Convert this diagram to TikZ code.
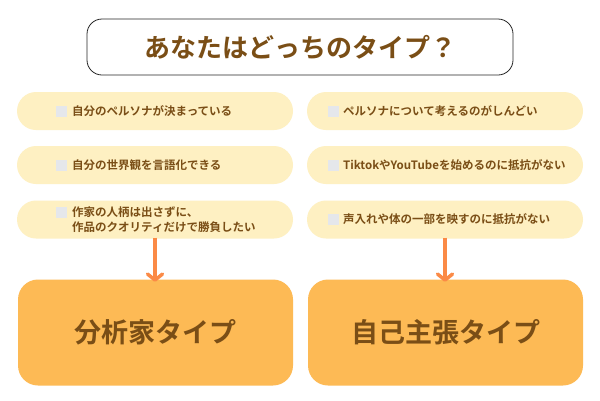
\documentclass[tikz,border=0pt]{standalone}
\usepackage{fontspec}
\setmainfont{Noto Sans CJK JP}[BoldFont={* Bold}]
\usetikzlibrary{arrows.meta}
\definecolor{brownT}{HTML}{7A4E16}
\definecolor{pillY}{HTML}{FEF0C2}
\definecolor{boxO}{HTML}{FDBA55}
\definecolor{arrO}{HTML}{FB8A46}
\definecolor{chkG}{HTML}{E5E7EB}
\begin{document}
\begin{tikzpicture}[x=1pt,y=-1pt,
  pill/.style={fill=pillY,draw=none,rounded corners=19pt,minimum width=276pt,minimum height=38pt,inner sep=0pt},
  chk/.style={fill=chkG,draw=none,minimum width=11pt,minimum height=11pt,inner sep=0pt},
  ptext/.style={text=brownT,font=\bfseries\fontsize{11.5}{15}\selectfont,anchor=west,inner sep=0pt,align=left},
  bigbox/.style={fill=boxO,draw=none,rounded corners=20pt,minimum width=275pt,minimum height=106pt,inner sep=0pt,text=brownT,font=\bfseries\fontsize{27}{30}\selectfont},
  arr/.style={draw=arrO,line width=3.5pt,-{Straight Barb[length=6pt,width=15pt,round]}}]
\useasboundingbox[fill=white] (0,0) rectangle (600,400);
% title
\node[draw=black!85,line width=0.8pt,rounded corners=15pt,minimum width=426pt,minimum height=56pt,inner sep=0pt,text=brownT,font=\bfseries\fontsize{26}{30}\selectfont] (title) at (300,47) {あなたはどっちのタイプ？};
% left pills
\node[pill] (L1) at (155,111) {};
\node[pill] (L2) at (155,165) {};
\node[pill] (L3) at (155,219.5) {};
\node[chk] (cL1) at (61.5,111) {};
\node[chk] (cL2) at (61.5,165) {};
\node[chk] (cL3) at (61.5,212) {};
\node[ptext] (tL1) at (72,111) {自分のペルソナが決まっている};
\node[ptext] (tL2) at (72,165) {自分の世界観を言語化できる};
\node[ptext] (tL3) at (72,219.5) {作家の人柄は出さずに、\\作品のクオリティだけで勝負したい};
% right pills
\node[pill] (R1) at (445,111) {};
\node[pill] (R2) at (445,165) {};
\node[pill] (R3) at (445,219.5) {};
\node[chk] (cR1) at (333.5,111) {};
\node[chk] (cR2) at (333.5,165) {};
\node[chk] (cR3) at (333.5,219.5) {};
\node[ptext] (tR1) at (343,111) {ペルソナについて考えるのがしんどい};
\node[ptext] (tR2) at (343,165) {TiktokやYouTubeを始めるのに抵抗がない};
\node[ptext] (tR3) at (343,219.5) {声入れや体の一部を映すのに抵抗がない};
% big boxes
\node[bigbox] (A) at (155.5,332.5) {分析家タイプ};
\node[bigbox] (B) at (445.5,332.5) {自己主張タイプ};
% arrows
\draw[arr] ([yshift=1pt]L3.south) -- ([yshift=-2.5pt]L3.south |- A.north);
\draw[arr] ([yshift=1pt]R3.south) -- ([yshift=-2.5pt]R3.south |- B.north);
\end{tikzpicture}
\end{document}
